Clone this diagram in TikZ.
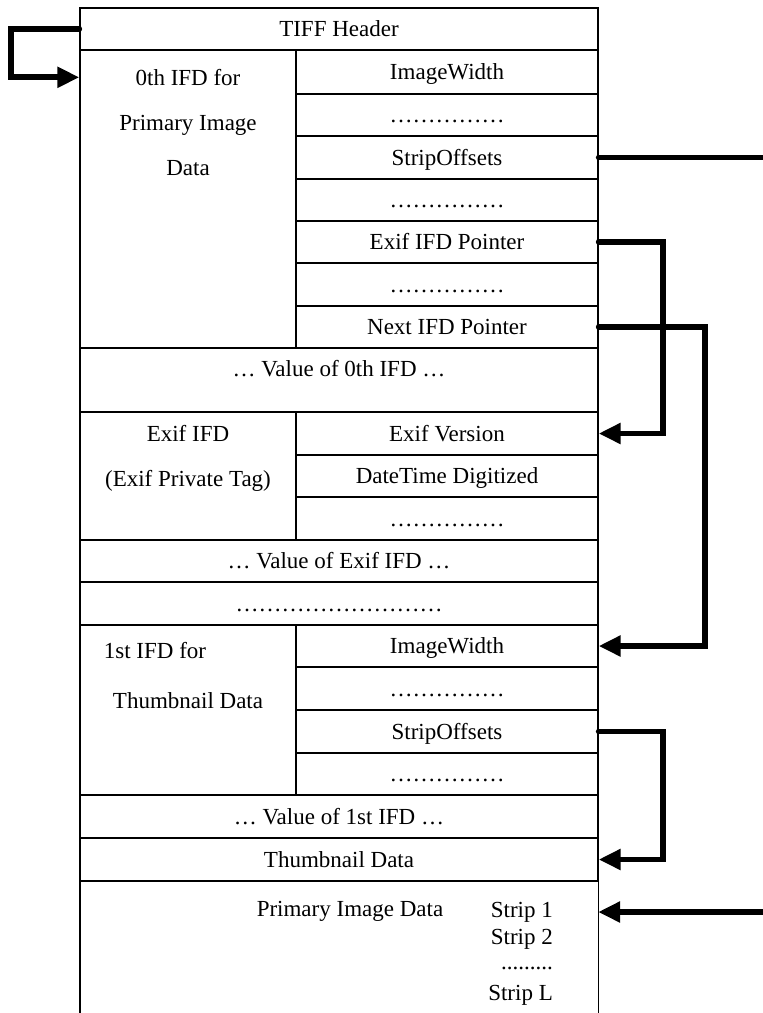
\documentclass[tikz,border=0pt]{standalone}
\usepackage{fontspec}
\setmainfont{Liberation Serif}
\usetikzlibrary{arrows.meta,calc}
\begin{document}
\begin{tikzpicture}[x=1pt,y=-1pt,
  txt/.style={font=\fontsize{23}{27}\selectfont, text height=18pt, text depth=3pt},
  frame/.style={line width=1.4pt},
  cell/.style={draw, line width=1.4pt, inner sep=0pt, txt},
  rcell/.style={cell, minimum width=302pt, minimum height=#1},
  fcell/.style={cell, minimum width=518pt, minimum height=#1},
  lcell/.style={cell, minimum width=216pt, minimum height=#1},
  lbl/.style={inner sep=0pt, txt},
  ptrline/.style={line width=5.8pt, line cap=round, line join=miter},
  ptr/.style={ptrline, -{Triangle[length=22pt,width=20pt]}},
]
\useasboundingbox (0,0) rectangle (763,1013);

% TIFF header
\node[fcell=42pt] (hdr) at (339,29) {TIFF Header};

% 0th IFD
\node[lcell=298pt] (ifd0) at (188,199) {};
\node[lbl] (l0a) at (188,78) {0th IFD for};
\node[lbl] (l0b) at (188,123) {Primary Image};
\node[lbl] (l0c) at (188,168) {Data};
\node[rcell=44pt] (iw0) at (447,72) {ImageWidth};
\node[rcell=42pt] (d0a) at (447,115) {……………};
\node[rcell=43pt] (so0) at (447,157.5) {StripOffsets};
\node[rcell=42pt] (d0b) at (447,200) {……………};
\node[rcell=42pt] (exifp) at (447,242) {Exif IFD Pointer};
\node[rcell=43pt] (d0c) at (447,284.5) {……………};
\node[rcell=42pt] (nextp) at (447,327) {Next IFD Pointer};
\node[fcell=64pt] (v0) at (339,380) {};
\node[lbl] (v0t) at (339,369) {… Value of 0th IFD …};

% Exif IFD
\node[lcell=128pt] (exif) at (188,476) {};
\node[lbl] (lea) at (188,434) {Exif IFD};
\node[lbl] (leb) at (188,479) {(Exif Private Tag)};
\node[rcell=43pt] (exver) at (447,433.5) {Exif Version};
\node[rcell=42pt] (dtd) at (447,476) {DateTime Digitized};
\node[rcell=43pt] (dea) at (447,518.5) {……………};
\node[fcell=42pt] (ve) at (339,561) {… Value of Exif IFD …};
\node[fcell=43pt] (gap) at (339,603.5) {………………………};

% 1st IFD
\node[lcell=170pt] (ifd1) at (188,710) {};
\node[lbl] (l1a) at (155,651) {1st IFD for};
\node[lbl] (l1b) at (188,701) {Thumbnail Data};
\node[rcell=42pt] (iw1) at (447,646) {ImageWidth};
\node[rcell=43pt] (d1a) at (447,688.5) {……………};
\node[rcell=43pt] (so1) at (447,731.5) {StripOffsets};
\node[rcell=42pt] (d1b) at (447,774) {……………};
\node[fcell=43pt] (v1) at (339,816.5) {… Value of 1st IFD …};
\node[fcell=43pt] (thumb) at (339,859.5) {Thumbnail Data};

% primary image data, open at the bottom
\node[inner sep=0pt, minimum width=518pt, minimum height=132pt] (prim) at (339,947) {};
\draw[frame] (prim.north west) -- (prim.south west);
\draw[frame] (prim.north east) -- (prim.south east);
\node[lbl] (pt) at (350,909) {Primary Image Data};
\node[lbl, anchor=east] (s1) at (553,910) {Strip 1};
\node[lbl, anchor=east] (s2) at (553,937) {Strip 2};
\node[lbl, anchor=east] (sd) at (553,962) {.........};
\node[lbl, anchor=east] (sl) at (553,993) {Strip L};

% offset pointers
\coordinate (so0out) at (763,157.5);
\coordinate (primin) at (763,912);
\draw[ptr] (hdr.west) -- ++(-68,0) |- ($(ifd0.north west)+(0,28)$);
\draw[ptrline] (so0.east) -- (so0out);
\draw[ptr] (exifp.east) -- ++(64,0) |- (exver.east);
\draw[ptr] (nextp.east) -- ++(106,0) |- (iw1.east);
\draw[ptr] (so1.east) -- ++(64,0) |- (thumb.east);
\draw[ptr] (primin) -- (prim.east |- 0,912);
\end{tikzpicture}
\end{document}
